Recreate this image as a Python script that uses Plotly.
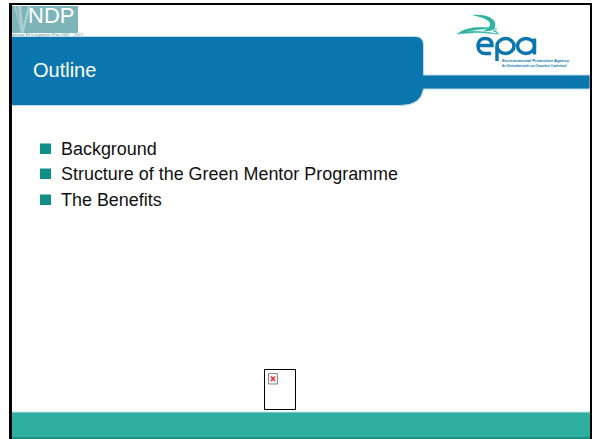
import plotly.graph_objects as go

TITLE = ["Outline"]
BULLETS = ["Background", "Structure of the Green Mentor Programme", "The Benefits"]
BULLET_Y = [149, 174, 200]
BLUE = "#0a76ad"
TEAL = "#2eaf9f"
NDP = "#7db4b8"
DARKTEAL = "#0f8f88"
FONT = "Liberation Sans"

fig = go.Figure()
fig.add_trace(go.Scatter(x=[0, 592], y=[0, 439], mode="markers",
                         marker=dict(opacity=0), hoverinfo="skip", showlegend=False))
shapes = []
def rect(x0, y0, x1, y1, fill, line=None, w=0):
    shapes.append(dict(type="rect", x0=x0, y0=y0, x1=x1, y1=y1, fillcolor=fill,
                       line=dict(color=line or fill, width=w), layer="above"))
def path(d, fill="rgba(0,0,0,0)", line=None, w=0):
    shapes.append(dict(type="path", path=d, fillcolor=fill,
                       line=dict(color=line or "rgba(0,0,0,0)", width=w), layer="above"))
def ell(cx, cy, rx, ry, line, w):
    shapes.append(dict(type="circle", x0=cx-rx, y0=cy-ry, x1=cx+rx, y1=cy+ry,
                       fillcolor="rgba(0,0,0,0)", line=dict(color=line, width=w), layer="above"))

# bottom band
rect(11, 412, 590, 439, TEAL)
rect(11, 411.5, 590, 412.6, "#c4e3de")
rect(11, 437, 590, 439, "#1d8d82")
# blue header
path("M11,36.5 L415,36.5 Q423.5,36.5 423.5,45 L423.5,75 L590,75 L590,89 L423.5,89 "
     "Q421,105.5 400,105.5 L11,105.5 Z", fill=BLUE, line="#bcd9e8", w=1)
# NDP logo
rect(12, 6, 78, 33, NDP)
rect(12, 33, 78, 36, "#ffffff")
path("M14,6 L21,33 L23.5,33 L31,6 L28,6 L23,26 L21,6 L18,6 L20,27 L16,6 Z", fill="#a9cdd0")
# border
rect(9, 3, 12, 439, "#000000")
rect(9, 3, 592, 5, "#000000")
rect(590, 3, 592, 439, "#000000")
# EPA swoosh
path("M457,34 Q470,24 497,29 Q480,28 466,32 Q478,30 498,34 Q478,31 457,34 Z", fill="#2fb3a2", line="#2fb3a2", w=0.5)
path("M472,15 Q484,14 491,18 Q498,23 494,29 Q490,32 483,31 Q491,28 490,23 Q487,18 472,15 Z", fill="#2fb3a2")
path("M493,30 Q497,30 499,35 Q496,32 493,31 Z", fill="#2fb3a2")
# EPA letters
e_w = 3.5
path("M478,45.5 L492,45.5 C492,40.5 489,38.5 485,38.5 C480,38.5 478,42 478,46 C478,50.5 481,53.5 485.5,53.5 L491,53.5",
     line=BLUE, w=e_w)
ell(505.5, 46, 8.5, 7.5, BLUE, e_w)
path("M497,46 L497,61", line=BLUE, w=e_w)
ell(526, 46, 8.5, 7.5, BLUE, e_w)
path("M534.5,38.5 L534.5,54.5", line=BLUE, w=e_w)
# bullets
for y in BULLET_Y:
    rect(40, y-5.5, 51, y+5, DARKTEAL)
# broken image placeholder
rect(264.5, 369.5, 295.5, 409.5, "#ffffff", "#000000", 1)
rect(268.5, 373.5, 277.5, 384, "#f4f4f4", "#8a8a8a", 1)
path("M271,376.5 L275,381 M275,376.5 L271,381", line="#f02b3c", w=1.6)

anns = [dict(text=TITLE[0], x=31, y=70, xanchor="left", yanchor="middle", showarrow=False,
             font=dict(family=FONT, size=20, color="#ffffff")),
        dict(text="NDP", x=51, y=15.5, xanchor="center", yanchor="middle", showarrow=False,
             font=dict(family=FONT, size=22, color="#ffffff")),
        dict(text="ational Development Plan 2007 - 2013", x=10, y=34.8, xanchor="left", yanchor="middle",
             showarrow=False, font=dict(family="Liberation Sans Narrow", size=4.6, color="#4f8f93")),
        dict(text="<b>Environmental Protection Agency</b>", x=500, y=60.5, xanchor="left", yanchor="middle",
             showarrow=False, font=dict(family=FONT, size=4.2, color=BLUE)),
        dict(text="<b>An Ghníomhaireacht um Chaomhnú Comhshaoil</b>", x=500, y=66, xanchor="left", yanchor="middle",
             showarrow=False, font=dict(family=FONT, size=2.8, color=BLUE))]
for t, y in zip(BULLETS, BULLET_Y):
    anns.append(dict(text=t, x=59, y=y, xanchor="left", yanchor="middle", showarrow=False,
                     font=dict(family=FONT, size=17.95, color="#111111")))

ax = dict(visible=False, fixedrange=True)
fig.update_layout(width=592, height=439, margin=dict(l=0, r=0, t=0, b=0),
                  paper_bgcolor="#ffffff", plot_bgcolor="#ffffff", showlegend=False,
                  xaxis=dict(range=[0, 592], **ax),
                  yaxis=dict(range=[439, 0], **ax),
                  shapes=shapes, annotations=anns)
fig.write_html("out.html", config=dict(displayModeBar=False),
               post_script="document.body.style.margin='0';document.body.style.overflow='hidden';")
